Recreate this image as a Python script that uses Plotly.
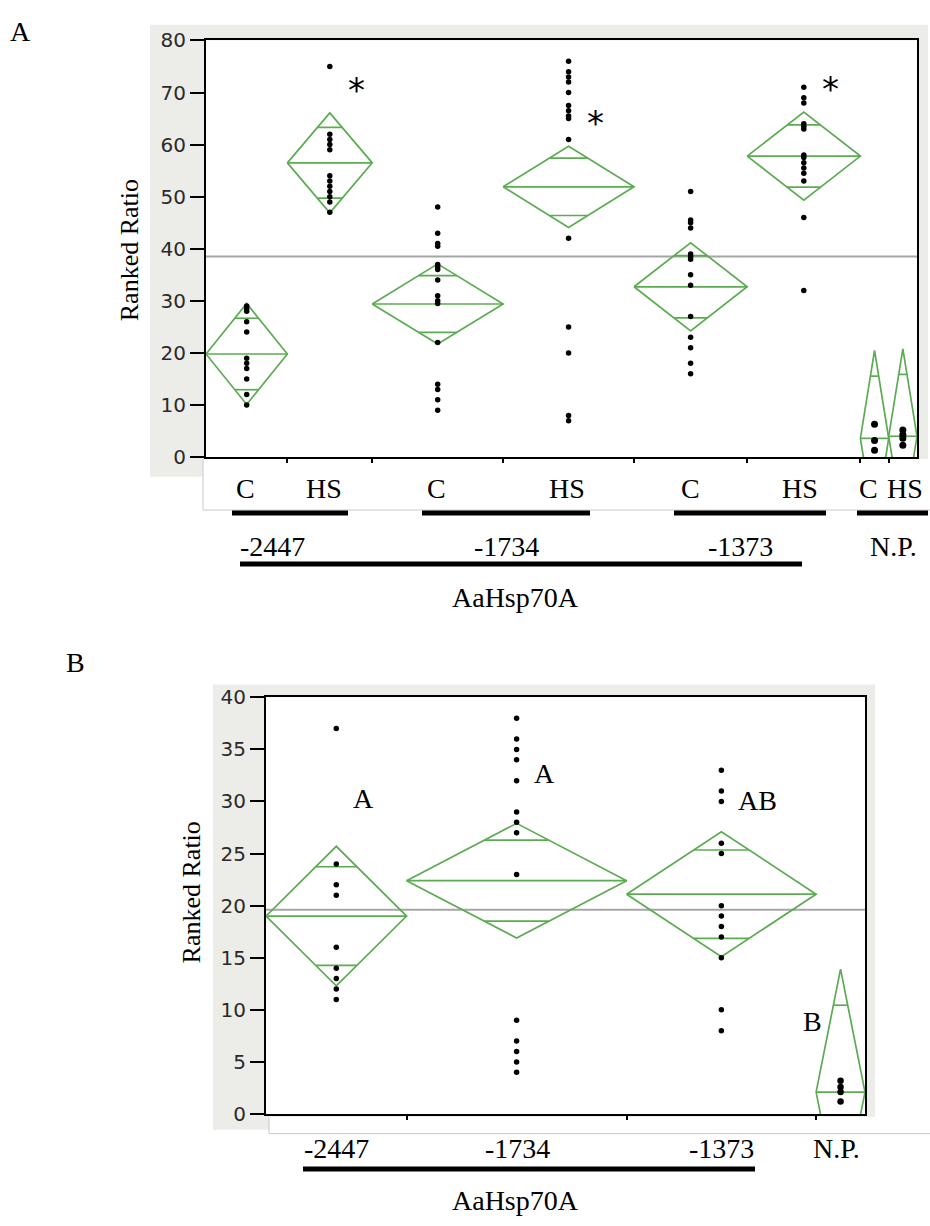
import numpy as np
import plotly.graph_objects as go

W, H = 930, 1226

# ---------------- Panel A data ----------------
treat_A = ["C", "HS", "C", "HS", "C", "HS", "C", "HS"]
promoter_A = ["-2447", "-1734", "-1373", "N.P."]
weights_A = [23, 24, 37, 37, 32, 32, 8, 8]          # proportional group widths (JMP)
pts_C2447 = [29, 28.5, 28, 26, 24, 19, 18, 17, 15, 12, 10]
pts_HS2447 = [75, 62, 61, 60, 59, 54, 53, 52, 51, 50, 49, 47]
pts_C1734 = [48, 43, 41, 40.5, 37, 36.5, 36, 34, 31, 30, 29.5, 22, 14, 13, 11, 9]
pts_HS1734 = [76, 74, 73, 72, 70, 67.5, 66.5, 65.5, 65, 61, 42, 25, 20, 8, 7]
pts_C1373 = [51, 45.5, 45, 44, 39, 38.5, 38, 35, 33, 27, 23, 21, 18, 16]
pts_HS1373 = [71, 69, 68, 64, 63.5, 63, 58, 57.5, 56.5, 55.5, 54.5, 53, 46, 32]
pts_CNP = [6.3, 3.2, 1.3]
pts_HSNP = [5.2, 4.3, 3.6, 2.3]
points_A = [pts_C2447, pts_HS2447, pts_C1734, pts_HS1734,
            pts_C1373, pts_HS1373, pts_CNP, pts_HSNP]
means_A = [19.8, 56.5, 29.4, 51.9, 32.7, 57.8, 3.6, 4.0]
ci_A = [9.7, 9.6, 7.7, 7.8, 8.45, 8.45, 16.9, 16.8]
grand_mean_A = 38.5
stars_A = ["", "*", "", "*", "", "*", "", ""]
ticks_A = [0, 10, 20, 30, 40, 50, 60, 70, 80]

# ---------------- Panel B data ----------------
promoter_B = ["-2447", "-1734", "-1373", "N.P."]
weights_B = [23, 36, 31, 8]
pts_B2447 = [37, 24, 22, 21, 16, 14, 13, 12, 11]
pts_B1734 = [38, 36, 35, 34, 32, 29, 28, 27, 23, 9, 7, 6, 5, 4]
pts_B1373 = [33, 31, 30, 26, 25, 20, 19, 18, 17, 15, 10, 8]
pts_BNP = [3.2, 2.6, 2.1, 1.2]
points_B = [pts_B2447, pts_B1734, pts_B1373, pts_BNP]
means_B = [19.0, 22.4, 21.1, 2.1]
ci_B = [6.7, 5.5, 6.0, 11.8]
grand_mean_B = 19.6
letters_B = ["A", "A", "AB", "B"]
ticks_B = [0, 5, 10, 15, 20, 25, 30, 35, 40]

GREEN = "#5cab52"
SERIF = "Liberation Serif, Times New Roman, serif"
SANS = "DejaVu Sans, Verdana, sans-serif"
TXT = dict(family=SERIF, size=28, color="black")


def px(x):
    return x / W


def py(y):
    return 1 - y / H


def bounds(weights):
    b = np.concatenate([[0], np.cumsum(weights)])
    return b, (b[:-1] + b[1:]) / 2


def diamonds(b, means, ci):
    xs, ys = [], []
    k = 1 / np.sqrt(2)
    for i, (m, h) in enumerate(zip(means, ci)):
        l, r = b[i], b[i + 1]
        c = (l + r) / 2
        xs += [l, c, r, c, l, None, l, r, None]
        ys += [m, m + h, m, m - h, m, None, m, m, None]
        hw = (r - l) / 2 * (1 - k)
        for s in (1, -1):
            xs += [c - hw, c + hw, None]
            ys += [m + s * h * k, m + s * h * k, None]
    return xs, ys


bA, cA = bounds(weights_A)
bB, cB = bounds(weights_B)

fig = go.Figure()

# grand mean lines
fig.add_trace(go.Scatter(x=[bA[0], bA[-1]], y=[grand_mean_A] * 2, mode="lines",
                         line=dict(color="#a6a6a6", width=2), xaxis="x", yaxis="y",
                         hoverinfo="skip"))
fig.add_trace(go.Scatter(x=[bB[0], bB[-1]], y=[grand_mean_B] * 2, mode="lines",
                         line=dict(color="#a6a6a6", width=2), xaxis="x2", yaxis="y2",
                         hoverinfo="skip"))

# diamonds
dx, dy = diamonds(bA, means_A, ci_A)
fig.add_trace(go.Scatter(x=dx, y=dy, mode="lines", line=dict(color=GREEN, width=1.7),
                         xaxis="x", yaxis="y", hoverinfo="skip"))
dx, dy = diamonds(bB, means_B, ci_B)
fig.add_trace(go.Scatter(x=dx, y=dy, mode="lines", line=dict(color=GREEN, width=1.7),
                         xaxis="x2", yaxis="y2", hoverinfo="skip"))

# points (the narrow N.P. groups show heavier, overlapping dots)
for i, (c, pts) in enumerate(zip(cA, points_A)):
    fig.add_trace(go.Scatter(x=[c] * len(pts), y=pts, mode="markers",
                             marker=dict(color="black", size=7 if i >= 6 else 5.5),
                             cliponaxis=False, xaxis="x", yaxis="y"))
for i, (c, pts) in enumerate(zip(cB, points_B)):
    fig.add_trace(go.Scatter(x=[c] * len(pts), y=pts, mode="markers",
                             marker=dict(color="black", size=6.5 if i == 3 else 5.5),
                             cliponaxis=False, xaxis="x2", yaxis="y2"))

ann = []
shapes = []

GRAY = "#ecece8"
BORDER = "#c8c8c8"


def rect(x0, y0, x1, y1, fill):
    shapes.append(dict(type="rect", xref="paper", yref="paper", x0=px(x0), x1=px(x1),
                       y0=py(y1), y1=py(y0), fillcolor=fill, layer="below",
                       line=dict(width=0)))


def hline(x0, x1, y, width, color="black", layer="above"):
    shapes.append(dict(type="line", xref="paper", yref="paper", x0=px(x0), x1=px(x1),
                       y0=py(y), y1=py(y), line=dict(color=color, width=width), layer=layer))


def vline(x, y0, y1, width, color):
    shapes.append(dict(type="line", xref="paper", yref="paper", x0=px(x), x1=px(x),
                       y0=py(y0), y1=py(y1), line=dict(color=color, width=width), layer="below"))


def label(text, x, y, font=TXT, angle=0):
    ann.append(dict(text=text, x=px(x), y=py(y), xref="paper", yref="paper",
                    xanchor="center", yanchor="middle", showarrow=False,
                    textangle=angle, font=font))


# Panel A frame
rect(150, 13, 928, 474, GRAY)
rect(206, 29, 917, 454, "white")
rect(203, 456, 930, 508, "white")
vline(203, 456, 508, 1, BORDER)
hline(203, 930, 508, 1, BORDER, layer="below")
# Panel B frame
rect(213, 686, 875, 1140, GRAY)
rect(266, 699, 865, 1124, "white")
rect(269, 1127, 930, 1144, "white")
vline(269, 1127, 1144, 1, BORDER)
hline(269, 930, 1144, 1, BORDER, layer="below")

# ---- Panel A annotations ----
label("A", 20, 20)
label("Ranked Ratio", 129, 243, dict(family=SERIF, size=26, color="black"), -90)
for t, x in zip(treat_A, [245, 324, 436, 567, 690, 800, 868, 905]):
    label(t, x, 486)
for c, s, m, h in zip(cA, stars_A, means_A, ci_A):
    if s:
        ann.append(dict(text=s, x=c, y=m + h + 6, xref="x", yref="y", xshift=27, yshift=-8,
                        xanchor="center", yanchor="middle", showarrow=False,
                        font=dict(family="DejaVu Sans", size=34, color="black")))
for (x0, x1) in [(232, 348), (422, 590), (674, 826), (857, 928)]:
    hline(x0, x1, 511, 5)
for t, x in zip(promoter_A, [272, 506, 740, 893]):
    label(t, x, 545)
hline(240, 802, 563, 5)
label("AaHsp70A", 515, 597)

# ---- Panel B annotations ----
label("B", 75, 663)
label("Ranked Ratio", 191, 898, dict(family=SERIF, size=26, color="black"), -90)
for t, x in zip(promoter_B, [336, 517, 721, 836]):
    label(t, x, 1159)
hline(303, 755, 1180, 5)
label("AaHsp70A", 515, 1212)
letter_pos = [(27, 30.3), (28, 32.7), (36, 30.1), (-28, 8.9)]
for t, c, (xs, yv) in zip(letters_B, cB, letter_pos):
    ann.append(dict(text=t, x=c, y=yv, xref="x2", yref="y2", xshift=xs,
                    xanchor="center", yanchor="middle", showarrow=False, font=TXT))

yax = dict(showline=True, mirror=True, linecolor="black", linewidth=2, ticks="outside",
           ticklen=14, tickwidth=2, tickcolor="black", showgrid=False, zeroline=False,
           tickfont=dict(family=SANS, size=20, color="#2a2a2a"), fixedrange=True)
xax = dict(showline=True, mirror=True, linecolor="black", linewidth=2, ticks="outside",
           ticklen=4, tickwidth=1.5, tickcolor="black", showgrid=False, zeroline=False,
           showticklabels=False, fixedrange=True)

fig.update_layout(
    width=W, height=H, margin=dict(l=0, r=0, t=0, b=0),
    paper_bgcolor="white", plot_bgcolor="white", showlegend=False,
    xaxis=dict(xax, domain=[px(206), px(917)], range=[bA[0], bA[-1]],
               tickvals=list(bA[1:-1]), anchor="y"),
    yaxis=dict(yax, domain=[py(454), py(29)], range=[0, 80], tickvals=ticks_A, anchor="x"),
    xaxis2=dict(xax, domain=[px(266), px(865)], range=[bB[0], bB[-1]],
                tickvals=list(bB[1:-1]), anchor="y2"),
    yaxis2=dict(yax, domain=[py(1124), py(699)], range=[0, 40], tickvals=ticks_B, anchor="x2"),
    annotations=ann, shapes=shapes,
)

fig.write_html("out.html", config={"displayModeBar": False},
               post_script="document.body.style.margin='0';document.body.style.overflow='hidden';")
